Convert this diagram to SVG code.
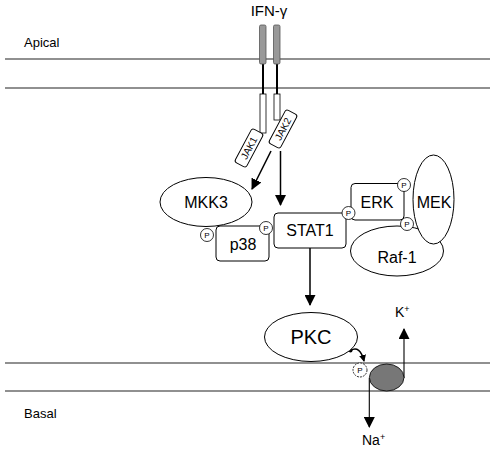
<svg xmlns="http://www.w3.org/2000/svg" width="495" height="452" viewBox="0 0 495 452">
<style>
text{font-family:"Liberation Sans",Arial,sans-serif;fill:#000}
.mem{stroke:#222;stroke-width:1.2;fill:none}
.node{fill:#fff;stroke:#000;stroke-width:1}
.lbl{font-size:16px;text-anchor:middle}
.p{fill:#fff;stroke:#000;stroke-width:0.8}
.pt{font-size:8px;text-anchor:middle}
.conn{stroke:#000;stroke-width:1.5;fill:none}
.thin{stroke:#000;stroke-width:1.1;fill:none}
</style>
<defs>
<marker id="ah" markerWidth="11" markerHeight="11" refX="10" refY="5.5" orient="auto" markerUnits="userSpaceOnUse" viewBox="0 0 11 11">
<path d="M0,0 L11,5.5 L0,11 z" fill="#000"/>
</marker>
<marker id="ahs" markerWidth="7" markerHeight="7" refX="6" refY="3.5" orient="auto" markerUnits="userSpaceOnUse" viewBox="0 0 7 7">
<path d="M0,0 L7,3.5 L0,7 z" fill="#000"/>
</marker>
</defs>
<rect width="495" height="452" fill="#fff"/>
<g id="membranes">
<line class="mem" x1="5" y1="59" x2="490" y2="59"/>
<line class="mem" x1="5" y1="88" x2="490" y2="88"/>
<line class="mem" x1="5" y1="363" x2="490" y2="363"/>
<line class="mem" x1="5" y1="391" x2="490" y2="391"/>
<text x="24" y="47" font-size="13">Apical</text>
<text x="24" y="418" font-size="13">Basal</text>
</g>
<g id="ifn">
<text x="269" y="16" font-size="15" text-anchor="middle">IFN-γ</text>
</g>
<g id="receptor">
<line x1="263" y1="64" x2="263" y2="94" stroke="#000" stroke-width="2"/>
<line x1="277" y1="64" x2="277" y2="94" stroke="#000" stroke-width="2"/>
<rect x="259.5" y="25" width="6.5" height="39" rx="1.5" fill="#999" stroke="#555" stroke-width="0.8"/>
<rect x="273.5" y="25" width="6.5" height="39" rx="1.5" fill="#999" stroke="#555" stroke-width="0.8"/>
<rect x="260" y="94" width="6" height="39" fill="#fff" stroke="#000" stroke-width="0.8"/>
<rect x="274" y="94" width="6" height="26" fill="#fff" stroke="#000" stroke-width="0.8"/>
</g>
<g id="jak1" transform="translate(249,148) rotate(-62)">
<rect x="-19" y="-6.5" width="38" height="13" rx="2.5" fill="#fff" stroke="#000" stroke-width="1"/>
<text x="0" y="3.5" font-size="10" text-anchor="middle">JAK1</text>
</g>
<g id="jak2" transform="translate(283,129) rotate(-62)">
<rect x="-19" y="-6.5" width="38" height="13" rx="2.5" fill="#fff" stroke="#000" stroke-width="1"/>
<text x="0" y="3.5" font-size="10" text-anchor="middle">JAK2</text>
</g>
<g id="connectors">
<line class="conn" x1="271" y1="151" x2="252" y2="189" marker-end="url(#ah)"/>
<line class="conn" x1="280.5" y1="151" x2="280.5" y2="205" marker-end="url(#ah)"/>
<line class="conn" x1="310" y1="248" x2="310" y2="305" marker-end="url(#ah)"/>
<path class="conn" d="M350.5,350.5 Q360,345 364,361" marker-end="url(#ahs)"/>
<circle cx="350.5" cy="350.5" r="2" fill="#000"/>
<line class="thin" x1="404" y1="378" x2="404" y2="329" marker-end="url(#ah)"/>
<line class="thin" x1="369.3" y1="378" x2="369.3" y2="427" marker-end="url(#ah)"/>
</g>
<g id="mkk3">
<ellipse class="node" cx="206" cy="202" rx="46" ry="24.5"/>
<text class="lbl" x="206" y="208">MKK3</text>
</g>
<g id="p38">
<rect class="node" x="216" y="226" width="53" height="35" rx="4"/>
<text class="lbl" x="243" y="250">p38</text>
<circle class="p" cx="207" cy="235" r="6.5"/>
<text class="pt" x="207" y="238">P</text>
</g>
<g id="stat1">
<rect class="node" x="274" y="213" width="72" height="35" rx="4"/>
<text class="lbl" x="310" y="236">STAT1</text>
<circle class="p" cx="266" cy="228" r="6.5"/>
<text class="pt" x="266" y="231">P</text>
</g>
<g id="raf1">
<ellipse class="node" cx="397" cy="251" rx="46.5" ry="25"/>
<text class="lbl" x="397" y="263">Raf-1</text>
</g>
<g id="erk">
<rect class="node" x="351" y="183.5" width="53" height="36.5" rx="4"/>
<text class="lbl" x="377" y="208">ERK</text>
<circle class="p" cx="348.5" cy="213" r="6.5"/>
<text class="pt" x="348.5" y="216">P</text>
</g>
<g id="mek">
<ellipse class="node" cx="433.5" cy="199.5" rx="20.5" ry="44.5"/>
<text class="lbl" x="434" y="208">MEK</text>
<circle class="p" cx="404" cy="185" r="6.5"/>
<text class="pt" x="404" y="188">P</text>
<circle class="p" cx="407" cy="224" r="6.5"/>
<text class="pt" x="407" y="227">P</text>
</g>
<g id="pkc">
<ellipse class="node" cx="311" cy="337" rx="46.5" ry="24.5"/>
<text x="311" y="344" font-size="20" text-anchor="middle">PKC</text>
</g>
<g id="channel">
<ellipse cx="386.7" cy="377.5" rx="17.3" ry="13.5" fill="#777" stroke="#000" stroke-width="0.8"/>
<circle cx="360" cy="370" r="7" fill="#fff" stroke="#000" stroke-width="0.8" stroke-dasharray="2,1"/>
<text class="pt" x="360" y="373">P</text>
<text x="395" y="317" font-size="14">K<tspan font-size="9" dy="-5">+</tspan></text>
<text x="362" y="445" font-size="14">Na<tspan font-size="9" dy="-5">+</tspan></text>
</g>
</svg>
